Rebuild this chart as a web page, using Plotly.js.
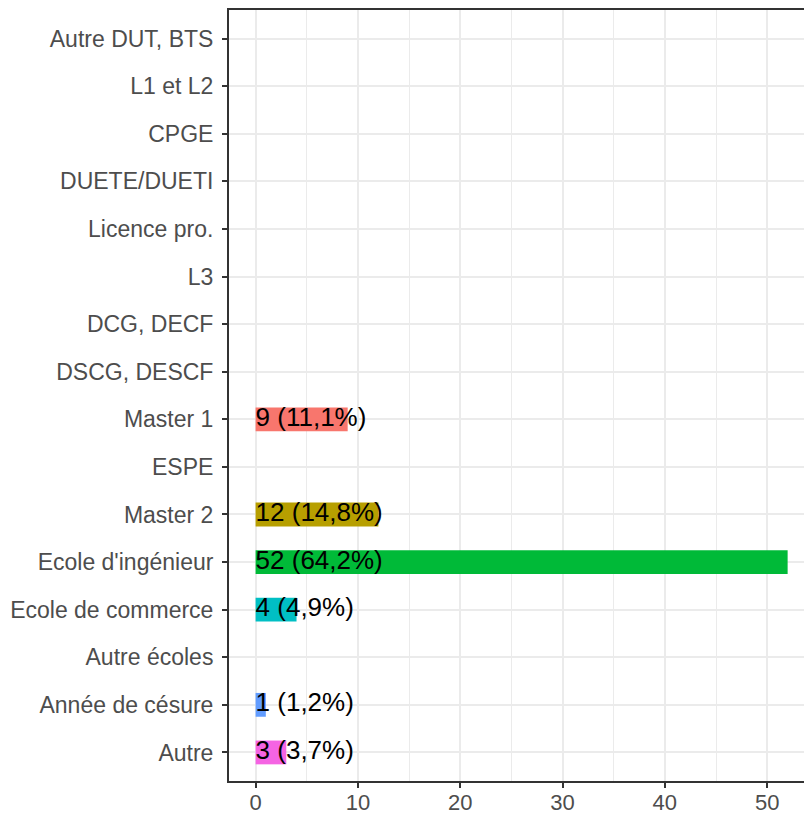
<!DOCTYPE html>
<html>
<head>
<meta charset="utf-8">
<script src="https://cdn.plot.ly/plotly-3.0.1.min.js"></script>
<style>body{margin:0;background:#fff;} #chart{width:804px;height:814px;}</style>
</head>
<body>
<div id="chart"></div>
<script>
// Categories, top to bottom as displayed
const categories = ["Autre DUT, BTS","L1 et L2","CPGE","DUETE/DUETI","Licence pro.","L3","DCG, DECF","DSCG, DESCF","Master 1","ESPE","Master 2","Ecole d'ingénieur","Ecole de commerce","Autre écoles","Année de césure","Autre"];
const counts = [0,0,0,0,0,0,0,0,9,0,12,52,4,0,1,3];
const percentLabels = ["","","","","","","","","11,1%","","14,8%","64,2%","4,9%","","1,2%","3,7%"];
const barColors = ["#999","#999","#999","#999","#999","#999","#999","#999","#F8766D","#999","#B79F00","#00BA38","#00BFC4","#999","#619CFF","#F564E3"];
const xTicks = [0,10,20,30,40,50];

const labelCats = [], labelText = [], labelX = [];
categories.forEach((c,i)=>{ if(counts[i]>0){ labelCats.push(c); labelText.push(counts[i]+" ("+percentLabels[i]+")"); labelX.push(0);} });

const font = "Liberation Sans, Arial, sans-serif";
const data = [
  {type:"bar", orientation:"h", y:categories, x:counts, width:0.5,
   marker:{color:barColors, line:{width:0}}, hoverinfo:"none", showlegend:false},
  {type:"scatter", mode:"text", y:labelCats, x:labelX, text:labelText,
   textposition:"middle right", textfont:{family:font, size:26, color:"#000"},
   hoverinfo:"none", showlegend:false, cliponaxis:false}
];
const layout = {
  width:804, height:814,
  margin:{l:229, r:0, t:10, b:33, pad:0},
  paper_bgcolor:"#fff", plot_bgcolor:"#fff",
  font:{family:font, color:"#4D4D4D"},
  xaxis:{range:[-2.6,53.6], tickvals:xTicks, ticktext:xTicks.map(String),
    showgrid:true, gridcolor:"#EBEBEB", gridwidth:2, zeroline:false,
    minor:{dtick:5, tick0:0, showgrid:true, gridcolor:"#EBEBEB", gridwidth:1},
    showline:true, linecolor:"#333333", linewidth:2, mirror:true,
    ticks:"outside", ticklen:5, tickwidth:2, tickcolor:"#333333",
    ticklabelstandoff:-4,
    tickfont:{family:font, size:22, color:"#4D4D4D"}},
  yaxis:{type:"category", categoryorder:"array", categoryarray:categories,
    range:[15.6,-0.6], showgrid:true, gridcolor:"#EBEBEB", gridwidth:2, zeroline:false,
    showline:true, linecolor:"#333333", linewidth:2, mirror:false,
    ticks:"outside", ticklen:5, tickwidth:2, tickcolor:"#333333",
    ticklabelstandoff:4,
    tickfont:{family:font, size:23, color:"#4D4D4D"}},
  bargap:0.5
};
Plotly.newPlot("chart", data, layout, {displayModeBar:false, staticPlot:true});
</script>
</body>
</html>
